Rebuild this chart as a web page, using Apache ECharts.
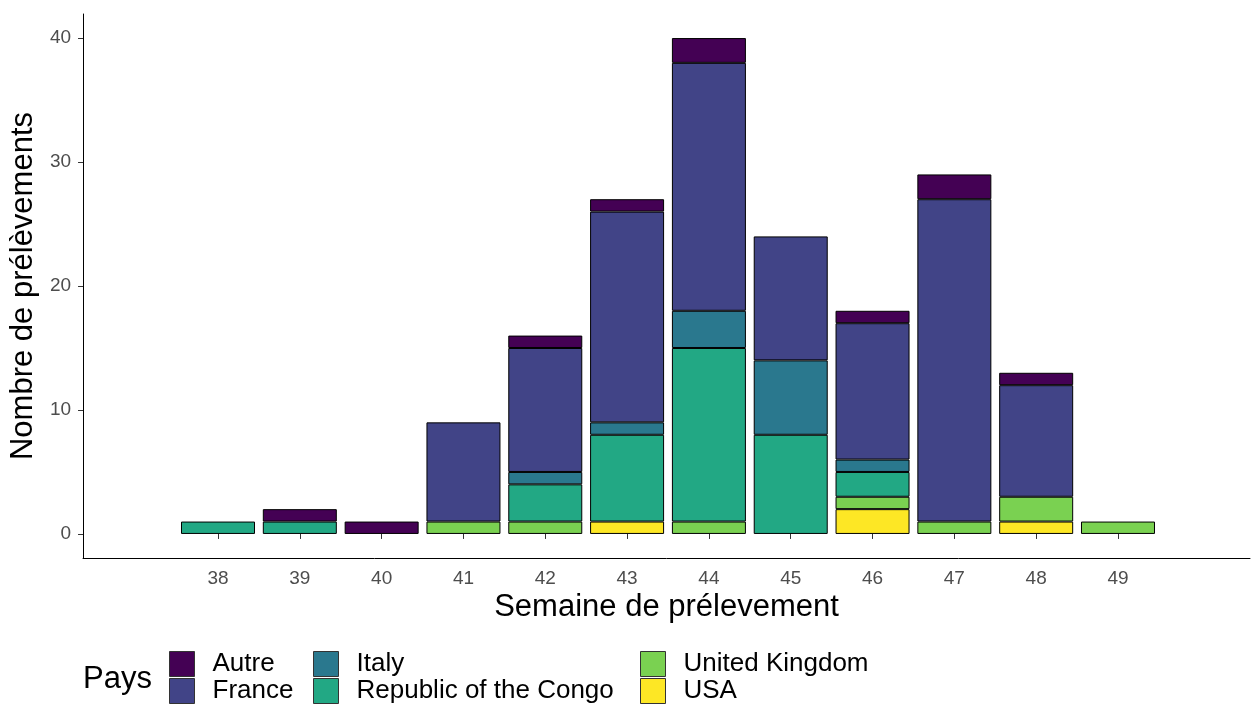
<!DOCTYPE html>
<html>
<head>
<meta charset="utf-8">
<script src="https://cdn.jsdelivr.net/npm/echarts@6/dist/echarts.min.js"></script>
<style>
  html, body { margin: 0; padding: 0; background: #fff; }
  #chart { width: 1256px; height: 704px; }
</style>
</head>
<body>
<div id="chart"></div>
<script>
// weeks and counts per country
const weeks = ['38', '39', '40', '41', '42', '43', '44', '45', '46', '47', '48', '49'];
const usa = [0, 0, 0, 0, 0, 1, 0, 0, 2, 0, 1, 0];
const uk = [0, 0, 0, 1, 1, 0, 1, 0, 1, 1, 2, 1];
const congo = [1, 1, 0, 0, 3, 7, 14, 8, 2, 0, 0, 0];
const italy = [0, 0, 0, 0, 1, 1, 3, 6, 1, 0, 0, 0];
const france = [0, 0, 0, 8, 10, 17, 20, 10, 11, 26, 9, 0];
const autre = [0, 1, 1, 0, 1, 1, 2, 0, 1, 2, 1, 0];
const yTicks = [0, 10, 20, 30, 40];

const colors = {
  'Autre': '#440154',
  'France': '#414487',
  'Italy': '#2A788E',
  'Republic of the Congo': '#22A884',
  'United Kingdom': '#7AD151',
  'USA': '#FDE725'
};

const font = 'Liberation Sans, Arial, sans-serif';
const yMin = -1.94, yMax = 41.94;

// bottom of stack first
const stackOrder = [
  ['USA', usa],
  ['United Kingdom', uk],
  ['Republic of the Congo', congo],
  ['Italy', italy],
  ['France', france],
  ['Autre', autre]
];

// zeros become null so no flat bar is drawn
const series = stackOrder.map(([name, vals]) => ({
  name: name,
  type: 'bar',
  stack: 'pays',
  xAxisIndex: 1,
  yAxisIndex: 1,
  barWidth: 74,
  itemStyle: { color: colors[name], borderColor: '#000', borderWidth: 1 },
  data: vals.map(v => v > 0 ? v : null)
}));

function legendCol(left, names) {
  return {
    orient: 'vertical',
    left: left,
    top: 651,
    height: 80,
    padding: 0,
    itemWidth: 25,
    itemHeight: 25,
    itemGap: 1,
    icon: 'rect',
    selectedMode: false,
    itemStyle: { borderColor: '#333', borderWidth: 1 },
    textStyle: { fontFamily: font, fontSize: 26, lineHeight: 25, color: '#000', padding: [0, 0, 0, 13] },
    data: names
  };
}

const chart = echarts.init(document.getElementById('chart'));
chart.setOption({
  animation: false,
  backgroundColor: '#fff',
  grid: [
    // outer panel: axis lines, y labels and titles
    { left: 82, right: 6, top: 14, bottom: 146 },
    // inner band where the weekly bars sit (81.8px per week)
    { left: 177.1, right: 97.1, top: 14, bottom: 146 }
  ],
  xAxis: [{
    gridIndex: 0,
    type: 'value',
    min: 0,
    max: 1,
    name: 'Semaine de prélevement',
    nameLocation: 'middle',
    nameGap: 34,
    nameTextStyle: { fontFamily: font, fontSize: 31, color: '#000' },
    splitLine: { show: false },
    axisLine: { show: true, onZero: false, lineStyle: { color: '#000', width: 1 } },
    axisTick: { show: false },
    axisLabel: { show: false }
  }, {
    gridIndex: 1,
    type: 'category',
    data: weeks,
    axisLine: { show: false },
    axisTick: { show: true, alignWithLabel: true, length: 5, lineStyle: { color: '#333' } },
    axisLabel: { fontFamily: font, fontSize: 19, color: '#4d4d4d', margin: 11 }
  }],
  yAxis: [{
    gridIndex: 0,
    type: 'value',
    min: yMin,
    max: yMax,
    name: 'Nombre de prélèvements',
    nameLocation: 'middle',
    nameGap: 32,
    nameTextStyle: { fontFamily: font, fontSize: 31, color: '#000' },
    splitLine: { show: false },
    axisLine: { show: true, onZero: false, lineStyle: { color: '#000', width: 1 } },
    axisTick: { show: true, length: 5, customValues: yTicks, lineStyle: { color: '#333' } },
    axisLabel: { customValues: yTicks, fontFamily: font, fontSize: 19, color: '#4d4d4d', margin: 12 }
  }, {
    gridIndex: 1,
    type: 'value',
    min: yMin,
    max: yMax,
    show: false
  }],
  legend: [
    legendCol(169, ['Autre', 'France']),
    legendCol(313, ['Italy', 'Republic of the Congo']),
    legendCol(640, ['United Kingdom', 'USA'])
  ],
  graphic: [{
    type: 'text',
    left: 83,
    top: 664,
    style: { text: 'Pays', fontFamily: font, fontSize: 31, fill: '#000' }
  }],
  series: series
});
</script>
</body>
</html>
